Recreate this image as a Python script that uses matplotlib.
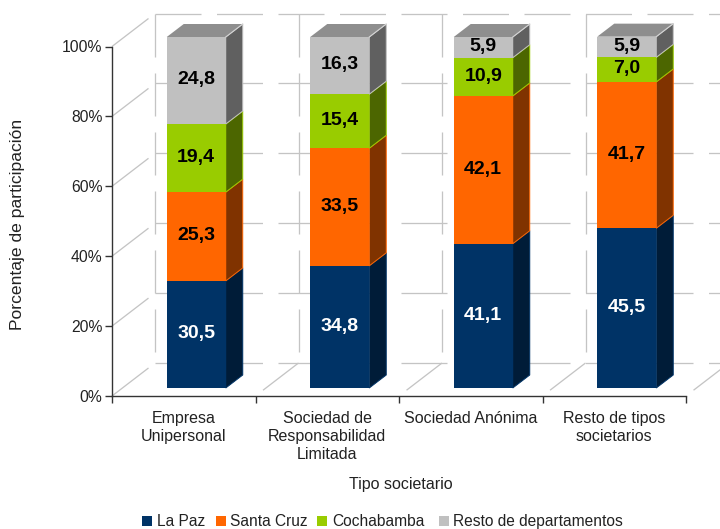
import matplotlib
matplotlib.use('Agg')
import matplotlib.pyplot as plt
from matplotlib.patches import Polygon, Rectangle

plt.rcParams['font.family'] = ['Liberation Sans', 'DejaVu Sans']
plt.rcParams['lines.scale_dashes'] = False

# data
categories = ['Empresa\nUnipersonal', 'Sociedad de\nResponsabilidad\nLimitada',
              'Sociedad Anónima', 'Resto de tipos\nsocietarios']
series = ['La Paz', 'Santa Cruz', 'Cochabamba', 'Resto de departamentos']
la_paz = [30.5, 34.8, 41.1, 45.5]
santa_cruz = [25.3, 33.5, 42.1, 41.7]
cochabamba = [19.4, 15.4, 10.9, 7.0]
resto = [24.8, 16.3, 5.9, 5.9]
yticks = [0, 20, 40, 60, 80, 100]

values = [la_paz, santa_cruz, cochabamba, resto]
front_colors = ['#003366', '#ff6600', '#99cc00', '#c0c0c0']
side_colors = ['#001c38', '#803300', '#4c6600', '#606060']
text_colors = ['white', 'black', 'black', 'black']
top_color = '#8e8e8e'
grid_color = '#c4c4c4'

# legend pixel positions (square left edge, text left edge)
legend_box_x = [142, 216, 317, 439]
legend_text_x = [157, 230, 332, 453]

# figure is 720x529, axes placed on the pixel positions of the axis lines
fig = plt.figure(figsize=(7.2, 5.29), dpi=100)
ax = fig.add_axes([112 / 720, 1 - 396 / 529, 574 / 720, 349.5 / 529])
ax.set_xlim(0, 4)
ax.set_ylim(0, 100)

# size of one pixel in data units
px = 4 / 574
py = 100 / 349.5
pt = 100 / 72

# depth of the back wall
wall_x = 43 * px
wall_y = 33 * py

# bar geometry
bar_w = 59 * px
bar_shift_x = 12.5 * px
bar_shift_y = 8 * py
bar_dx = 17 * px
bar_dy = 13 * py
bar_scale = 351 / 349.5

hdash = (0, (46 / pt, 15.5 / pt))
vdash = (0, (43 / pt, 16 / pt))
gstyle = dict(color=grid_color, lw=1.3 / pt, clip_on=False, zorder=1)

# back wall grid
for v in yticks:
    ax.plot([wall_x, 4 + wall_x], [v + wall_y, v + wall_y], linestyle=hdash, **gstyle)
    ax.plot([0, wall_x], [v, v + wall_y], linestyle=hdash, **gstyle)
for i in range(5):
    ax.plot([i + wall_x, i + wall_x], [100 + wall_y, wall_y], linestyle=vdash, **gstyle)
    if i > 0:
        ax.plot([i, i + wall_x], [0, wall_y],
                linestyle=(52 / pt, (46 / pt, 15.5 / pt)), **gstyle)

# stacked bars
for i in range(len(categories)):
    x0 = i + 0.5 - bar_w / 2 + bar_shift_x
    x1 = x0 + bar_w
    total = 0
    for j in range(len(series)):
        v = values[j][i]
        y0 = bar_shift_y + total * bar_scale
        y1 = bar_shift_y + (total + v) * bar_scale
        ax.add_patch(Polygon([(x1, y0), (x1 + bar_dx, y0 + bar_dy),
                              (x1 + bar_dx, y1 + bar_dy), (x1, y1)],
                             facecolor=side_colors[j], edgecolor=front_colors[j],
                             lw=0.7, clip_on=False, zorder=3))
        ax.add_patch(Polygon([(x0, y0), (x1, y0), (x1, y1), (x0, y1)],
                             facecolor=front_colors[j], edgecolor='none',
                             clip_on=False, zorder=4))
        ax.text((x0 + x1) / 2, (y0 + y1) / 2 + 0.2, ('%.1f' % v).replace('.', ','),
                color=text_colors[j], fontsize=14, fontweight='bold',
                ha='center', va='center', zorder=5)
        total += v
    ax.add_patch(Polygon([(x0, y1), (x1, y1), (x1 + bar_dx, y1 + bar_dy),
                          (x0 + bar_dx, y1 + bar_dy)],
                         facecolor=top_color, edgecolor='none',
                         clip_on=False, zorder=4))
    ax.plot([x1, x1 + bar_dx], [y1, y1 + bar_dy], color='#d4d4d4', lw=0.8,
            clip_on=False, zorder=5)

# axes
for side in ['top', 'right']:
    ax.spines[side].set_visible(False)
for side in ['left', 'bottom']:
    ax.spines[side].set_color('#333333')
    ax.spines[side].set_linewidth(1)
ax.set_yticks(yticks)
ax.set_yticklabels(['%d%%' % v for v in yticks], fontsize=11.3)
ax.set_xticks(range(5))
ax.set_xticklabels([])
ax.tick_params(axis='both', length=5, width=1, color='#333333', labelcolor='#222222')
ax.tick_params(axis='y', pad=2)

# category labels sit between the ticks
for i in range(len(categories)):
    ax.annotate(categories[i], xy=(i + 0.5, 0), xycoords='data', xytext=(0, -10.5),
                textcoords='offset points', ha='center', va='top', fontsize=11.5,
                color='#222222', linespacing=1.27)

fig.text(401 / 720, 1 - 484.5 / 529, 'Tipo societario', fontsize=11.5, color='#222222',
         ha='center', va='center')
fig.text(18 / 720, 1 - 224 / 529, 'Porcentaje de participación', fontsize=12.6,
         color='#222222', rotation=90, ha='center', va='center')

# legend
for j in range(len(series)):
    fig.add_artist(Rectangle((legend_box_x[j] / 720, 1 - 526 / 529), 10 / 720, 10 / 529,
                             transform=fig.transFigure, facecolor=front_colors[j],
                             edgecolor='none'))
    fig.text(legend_text_x[j] / 720, 1 - 526 / 529, series[j], fontsize=11.2,
             color='#222222', ha='left', va='baseline')

fig.savefig('out.png', dpi=100)
